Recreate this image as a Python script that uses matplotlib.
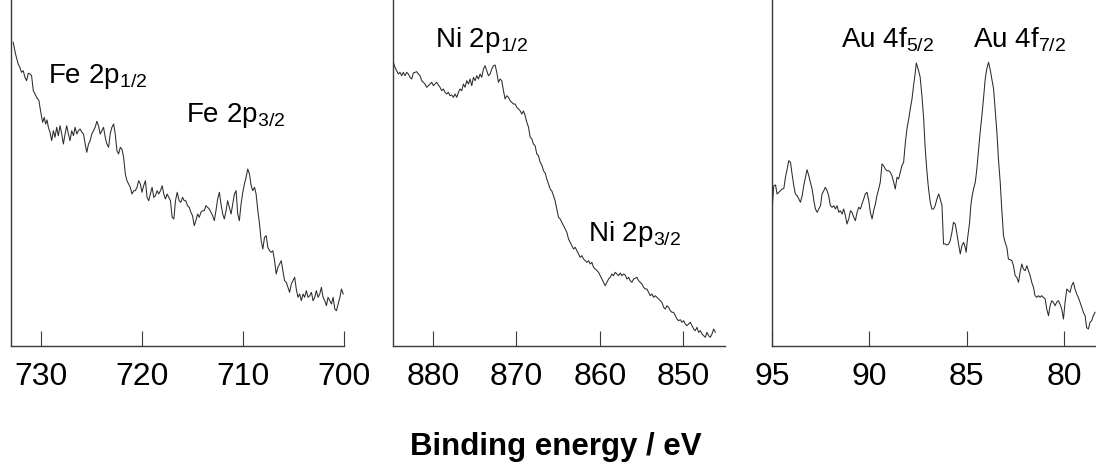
import matplotlib
matplotlib.use('Agg')
import matplotlib.pyplot as plt

plt.rcParams['font.family'] = ['Liberation Sans', 'DejaVu Sans']
plt.rcParams['mathtext.fontset'] = 'custom'
plt.rcParams['mathtext.rm'] = 'Liberation Sans'
plt.rcParams['mathtext.it'] = 'Liberation Sans:italic'
plt.rcParams['mathtext.bf'] = 'Liberation Sans:bold'

# Fe 2p region (binding energy eV, intensity a.u.)
fe_energy = [
    732.78, 732.55, 732.29, 732.12, 731.96, 731.79, 731.62, 731.46, 731.29, 731.12,
    730.96, 730.79, 730.63, 730.46, 730.23, 730.13, 729.96, 729.86, 729.70, 729.57,
    729.43, 729.30, 729.13, 728.97, 728.80, 728.64, 728.47, 728.31, 728.14, 727.97,
    727.81, 727.64, 727.48, 727.31, 727.15, 726.98, 726.81, 726.65, 726.48, 726.32,
    726.15, 725.98, 725.82, 725.65, 725.49, 725.32, 725.16, 724.99, 724.82, 724.66,
    724.49, 724.33, 724.16, 724.00, 723.83, 723.66, 723.50, 723.33, 723.17, 723.00,
    722.83, 722.67, 722.50, 722.34, 722.17, 722.01, 721.84, 721.67, 721.51, 721.34,
    721.18, 721.01, 720.84, 720.68, 720.51, 720.35, 720.18, 720.02, 719.85, 719.68,
    719.52, 719.35, 719.19, 719.02, 718.85, 718.69, 718.52, 718.36, 718.19, 718.02,
    717.86, 717.69, 717.53, 717.36, 717.20, 717.03, 716.86, 716.70, 716.53,
    716.34, 716.17, 716.00, 715.84, 715.67, 715.51, 715.34, 715.17, 715.01, 714.84,
    714.68, 714.51, 714.34, 714.18, 714.01, 713.85, 713.68, 713.52, 713.35, 713.18,
    713.02, 712.85, 712.69, 712.52, 712.35, 712.19, 712.02, 711.86, 711.69, 711.53,
    711.36, 711.19, 711.03, 710.86, 710.70, 710.53, 710.37, 710.20, 710.03, 709.87,
    709.70, 709.54, 709.37, 709.20, 709.04, 708.87, 708.71, 708.54, 708.37, 708.21,
    708.04, 707.88, 707.71, 707.55, 707.38, 707.21, 707.05, 706.88, 706.72, 706.55,
    706.38, 706.22, 706.05, 705.89, 705.72, 705.56, 705.39, 705.22, 705.06, 704.89,
    704.73, 704.56, 704.39, 704.23, 704.06, 703.90, 703.73, 703.56, 703.40, 703.23,
    703.07, 702.90, 702.74, 702.57, 702.40, 702.24, 702.07, 701.91, 701.74, 701.58,
    701.41, 701.24, 701.08, 700.91, 700.75, 700.58, 700.41, 700.25, 700.08,
]
fe_counts = [
    303.7, 292.0, 282.0, 278.7, 273.7, 275.3, 268.7, 265.3, 272.7, 272.0,
    270.3, 255.3, 252.0, 248.7, 245.3, 238.7, 228.7, 223.7, 228.7, 222.0,
    226.0, 218.7, 213.7, 205.3, 215.3, 208.7, 218.7, 210.3, 220.3, 212.0,
    202.0, 212.0, 220.3, 212.0, 205.3, 215.3, 210.3, 218.7, 212.0, 215.3,
    217.0, 213.7, 212.0, 202.0, 193.7, 202.0, 205.3, 212.0, 215.3, 218.7,
    224.7, 220.3, 212.0, 215.3, 218.7, 208.7, 202.0, 198.7, 212.0, 218.7,
    222.0, 212.0, 195.3, 192.0, 198.7, 197.0, 188.7, 172.0, 165.3, 162.0,
    158.7, 152.0, 155.3, 155.3, 158.7, 165.3, 162.0, 153.7, 160.3, 165.3,
    148.7, 145.3, 152.0, 158.7, 148.7, 150.3, 155.3, 152.0, 155.3, 160.3,
    152.0, 147.0, 152.0, 148.7, 145.3, 128.7, 127.0, 145.3, 153.7,
    145.3, 143.7, 148.7, 145.3, 145.3, 140.3, 138.7, 133.7, 130.3, 120.3,
    125.3, 132.0, 128.7, 133.7, 135.3, 135.3, 140.3, 138.7, 137.0, 133.7,
    130.3, 125.3, 135.3, 147.0, 153.7, 142.0, 132.0, 127.0, 135.3, 145.3,
    138.7, 132.0, 142.0, 152.0, 155.3, 132.0, 125.3, 142.0, 153.7, 162.0,
    168.7, 177.0, 172.0, 160.3, 155.3, 158.7, 152.0, 135.3, 122.0, 105.3,
    97.0, 108.7, 110.3, 98.7, 95.3, 93.7, 95.3, 85.3, 72.0, 78.7,
    82.0, 85.3, 75.3, 65.3, 63.7, 58.7, 53.7, 62.0, 65.3, 68.7,
    57.0, 48.7, 52.0, 45.3, 52.0, 48.7, 55.3, 48.7, 50.3, 53.7,
    45.3, 48.7, 55.3, 48.7, 52.0, 58.7, 48.7, 45.3, 40.3, 48.7,
    45.3, 42.0, 48.7, 37.0, 35.3, 42.0, 48.7, 57.0, 52.0,
]

# Ni 2p region
ni_energy = [
    884.76, 884.56, 884.36, 884.16, 883.96, 883.76, 883.56, 883.36, 883.16, 882.96,
    882.76, 882.56, 882.36, 882.16, 881.96, 881.76, 881.56, 881.36, 881.16, 880.96,
    880.76, 880.56, 880.36, 880.16, 879.96, 879.76, 879.56, 879.36, 879.16, 878.96,
    878.76, 878.56, 878.36, 878.16, 877.96, 877.76, 877.56, 877.36, 877.16, 876.96,
    876.76, 876.56, 876.36, 876.16, 875.96, 875.76, 875.56, 875.36, 875.16, 874.96,
    874.76, 874.56, 874.36, 874.16, 873.96, 873.76, 873.56, 873.36, 873.16, 872.96,
    872.76, 872.56, 872.36, 872.16, 871.96, 871.76, 871.56, 871.36, 871.16, 870.96,
    870.76, 870.56, 870.36, 870.16, 869.96, 869.76, 869.56, 869.36, 869.16, 868.96,
    868.76, 868.56, 868.36, 868.16, 867.96, 867.76, 867.56, 867.36, 867.16, 866.96,
    866.76, 866.56, 866.36, 866.16, 865.96, 865.76, 865.56, 865.36, 865.16, 864.96,
    864.76, 864.56, 864.36, 864.16, 863.96, 863.76, 863.56, 863.36, 863.16, 862.96,
    862.76, 862.56, 862.36, 862.16, 861.96, 861.76, 861.56, 861.36, 861.16, 860.96,
    860.76, 860.56, 860.36, 860.16, 859.96, 859.76, 859.56, 859.36, 859.16, 858.96,
    858.76, 858.56, 858.36, 858.16, 857.96, 857.76, 857.56, 857.36, 857.16, 856.96,
    856.76, 856.56, 856.36, 856.16, 855.96, 855.76, 855.56, 855.36, 855.16, 854.96,
    854.76, 854.56, 854.36, 854.16, 853.96, 853.76, 853.56, 853.36, 853.16, 852.96,
    852.76, 852.56, 852.36, 852.16, 851.96, 851.76, 851.56, 851.36, 851.16, 850.96,
    850.76, 850.56, 850.36, 850.16, 849.96, 849.76, 849.56, 849.36, 849.16, 848.96,
    848.76, 848.56, 848.36, 848.16, 847.96, 847.76, 847.56, 847.36, 847.16, 846.96,
    846.76, 846.56, 846.36, 846.16,
]
ni_counts = [
    283.7, 278.7, 275.3, 272.0, 273.7, 270.3, 273.7, 270.3, 273.7, 272.0,
    268.7, 267.0, 273.0, 273.7, 274.3, 272.0, 270.3, 265.3, 263.7, 262.0,
    258.7, 260.3, 262.0, 263.7, 260.3, 262.0, 263.7, 261.0, 258.7, 255.3,
    257.0, 253.7, 252.0, 253.7, 250.3, 251.0, 248.7, 252.0, 248.7, 253.7,
    257.0, 255.3, 262.0, 258.7, 265.3, 262.0, 267.0, 260.3, 268.7, 265.3,
    270.3, 267.0, 272.0, 268.7, 277.0, 280.3, 275.3, 270.3, 272.0, 277.0,
    280.3, 281.0, 273.7, 263.7, 267.0, 265.3, 255.3, 247.0, 250.3, 248.7,
    245.3, 243.7, 242.0, 242.0, 238.7, 237.0, 235.3, 232.0, 235.0, 230.3,
    223.7, 219.0, 209.0, 207.0, 202.0, 200.0, 192.0, 190.3, 183.7, 181.0,
    175.3, 173.0, 167.0, 162.0, 157.0, 155.0, 150.3, 145.0, 137.0, 128.7,
    127.0, 123.7, 120.3, 117.0, 113.7, 107.0, 103.7, 100.3, 97.0, 98.7,
    95.3, 92.0, 88.7, 90.3, 87.0, 85.3, 83.7, 85.3, 82.0, 83.7,
    78.7, 77.0, 75.3, 73.7, 70.3, 67.0, 63.7, 60.3, 63.7, 67.0,
    68.7, 72.0, 70.3, 73.7, 72.0, 70.3, 73.0, 70.3, 72.0, 71.0,
    67.0, 68.7, 65.3, 63.7, 67.0, 67.7, 68.7, 65.3, 63.7, 62.0,
    58.7, 57.0, 57.0, 53.7, 50.3, 52.0, 48.7, 50.3, 48.7, 47.0,
    45.3, 43.7, 38.7, 37.0, 40.3, 38.7, 35.3, 33.7, 33.7, 30.3,
    27.0, 25.3, 26.3, 23.7, 25.3, 22.0, 20.3, 22.0, 23.7, 20.3,
    17.0, 15.3, 18.7, 13.7, 15.3, 12.0, 10.3, 8.7, 13.7, 10.3,
    8.7, 12.0, 17.0, 13.7,
]

# Au 4f region
au_energy = [
    94.99, 94.91, 94.82, 94.74, 94.65, 94.56, 94.48, 94.39, 94.31, 94.22,
    94.14, 94.05, 93.97, 93.88, 93.80, 93.71, 93.62, 93.54, 93.45, 93.37,
    93.28, 93.20, 93.11, 93.03, 92.94, 92.85, 92.77, 92.68, 92.60, 92.51,
    92.43, 92.34, 92.26, 92.17, 92.09, 92.00, 91.91, 91.83, 91.74, 91.66,
    91.57, 91.49, 91.40, 91.32, 91.23, 91.15, 91.06, 90.97, 90.89, 90.80,
    90.72, 90.63, 90.55, 90.46, 90.38, 90.29, 90.21, 90.12, 90.03, 89.95,
    89.86, 89.78, 89.69, 89.61, 89.52, 89.44, 89.35, 89.27, 89.18, 89.09,
    89.01, 88.92, 88.84, 88.75, 88.67, 88.58, 88.50, 88.41, 88.33, 88.24,
    88.15, 88.07, 87.98, 87.90, 87.81, 87.73, 87.64, 87.59, 87.47, 87.39,
    87.30, 87.21, 87.13, 87.04, 86.96, 86.87, 86.79, 86.70,
    86.62, 86.53, 86.44, 86.36, 86.27, 86.19, 86.10, 86.02, 85.93, 85.85,
    85.76, 85.68, 85.59, 85.50, 85.42, 85.33, 85.25, 85.16, 85.08, 85.03,
    84.96, 84.85, 84.79, 84.72, 84.65, 84.56, 84.48, 84.39, 84.31, 84.22,
    84.14, 84.05, 83.97, 83.88, 83.80, 83.71, 83.62, 83.54, 83.45, 83.37,
    83.28, 83.20, 83.11, 83.03, 82.94, 82.86, 82.77, 82.68, 82.60, 82.51,
    82.43, 82.34, 82.26, 82.17, 82.09, 82.00, 81.91, 81.83, 81.74, 81.66,
    81.57, 81.49, 81.40, 81.32, 81.23, 81.15, 81.06, 80.97, 80.89, 80.80,
    80.72, 80.63, 80.55, 80.46, 80.38, 80.29, 80.21, 80.12, 80.03, 79.95,
    79.86, 79.78, 79.69, 79.61, 79.52, 79.44, 79.35, 79.27, 79.18, 79.09,
    79.01, 78.92, 78.84, 78.75, 78.67, 78.58, 78.50, 78.41,
]
au_counts = [
    137.0, 160.3, 161.0, 152.0, 153.7, 155.3, 157.0, 157.7, 168.7, 177.0,
    185.3, 183.7, 172.0, 160.3, 152.0, 150.3, 147.0, 143.7, 150.3, 160.3,
    168.7, 176.3, 170.3, 163.7, 157.0, 145.3, 137.0, 133.7, 137.0, 140.3,
    152.0, 155.3, 158.7, 155.3, 150.3, 140.3, 138.7, 140.3, 137.0, 140.3,
    133.7, 135.3, 132.0, 137.0, 130.3, 122.0, 127.0, 135.3, 133.7, 128.7,
    125.3, 133.7, 138.7, 137.0, 142.0, 147.0, 152.0, 153.7, 145.3, 133.7,
    127.0, 135.3, 142.0, 150.3, 157.0, 163.7, 182.0, 180.3, 177.0, 175.3,
    175.3, 173.7, 170.3, 163.7, 157.0, 168.7, 167.0, 173.7, 180.3, 183.7,
    203.7, 217.0, 227.0, 237.0, 247.0, 260.3, 273.7, 283.0, 275.3, 268.7,
    250.3, 227.0, 197.0, 173.7, 157.0, 143.7, 137.0, 137.0,
    140.3, 147.0, 152.0, 147.0, 140.3, 102.0, 102.0, 101.0, 102.0, 105.3,
    113.7, 123.7, 122.0, 112.0, 102.0, 92.0, 100.3, 103.7, 98.7, 93.7,
    107.0, 123.7, 140.3, 150.3, 157.0, 163.7, 177.0, 197.0, 213.7, 230.3,
    247.0, 267.0, 277.0, 283.7, 277.0, 267.0, 257.0, 237.0, 213.7, 187.0,
    163.7, 137.0, 110.3, 103.7, 98.7, 87.0, 86.3, 85.3, 80.3, 70.3,
    68.7, 63.7, 73.7, 82.0, 77.0, 75.3, 80.3, 75.3, 70.3, 63.7,
    58.7, 50.3, 48.7, 50.3, 48.7, 50.3, 48.7, 47.0, 37.0, 30.3,
    40.3, 45.3, 43.7, 40.3, 43.7, 45.3, 42.0, 37.0, 27.0, 43.7,
    57.0, 55.3, 53.7, 60.3, 63.7, 57.0, 52.0, 48.7, 43.7, 38.7,
    33.7, 30.3, 18.3, 17.0, 23.7, 25.3, 30.3, 33.7,
]

panels = [
    dict(x=fe_energy, y=fe_counts, xlim=(733.0, 700.0), ticks=[730, 720, 710, 700],
         labels=[('Fe 2p$_{\\mathregular{1/2}}$', 729.3, 264), ('Fe 2p$_{\\mathregular{3/2}}$', 715.7, 225)],
         rect=[11 / 1096, 117 / 464, 333 / 1096, 347 / 464]),
    dict(x=ni_energy, y=ni_counts, xlim=(884.8, 845.0), ticks=[880, 870, 860, 850],
         labels=[('Ni 2p$_{\\mathregular{1/2}}$', 879.8, 300), ('Ni 2p$_{\\mathregular{3/2}}$', 861.4, 106)],
         rect=[393 / 1096, 117 / 464, 332 / 1096, 347 / 464]),
    dict(x=au_energy, y=au_counts, xlim=(95.0, 78.36), ticks=[95, 90, 85, 80],
         labels=[('Au 4f$_{\\mathregular{5/2}}$', 91.45, 300), ('Au 4f$_{\\mathregular{7/2}}$', 84.7, 300)],
         rect=[772 / 1096, 117 / 464, 324 / 1096, 347 / 464]),
]

fig = plt.figure(figsize=(10.96, 4.64), dpi=100)

for p in panels:
    ax = fig.add_axes(p['rect'])
    ax.plot(p['x'], p['y'], color='#2b2b2b', linewidth=0.75)
    ax.set_xlim(*p['xlim'])
    ax.set_ylim(0, 347)
    ax.set_xticks(p['ticks'])
    ax.set_yticks([])
    for s in ['top', 'right']:
        ax.spines[s].set_visible(False)
    for s in ['left', 'bottom']:
        ax.spines[s].set_color('#3a3a3a')
        ax.spines[s].set_linewidth(1.0)
    ax.tick_params(axis='x', direction='in', length=11, width=0.8, color='#3a3a3a',
                   labelsize=23, pad=11)
    for txt, xe, yi in p['labels']:
        ax.text(xe, yi, txt, fontsize=20, ha='left', va='baseline', clip_on=False)

fig.text(556 / 1096, 9 / 464, 'Binding energy / eV', ha='center', va='baseline',
         fontsize=22.5, fontweight='bold')

fig.savefig('out.png', dpi=100)
